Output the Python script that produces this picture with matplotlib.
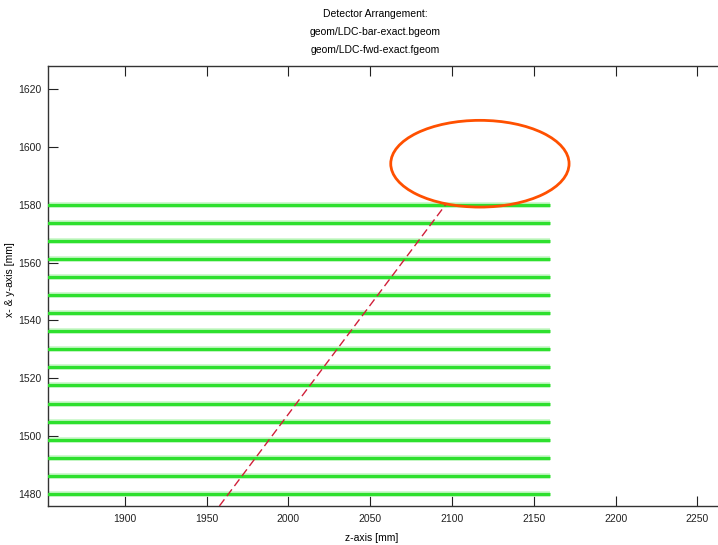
import matplotlib
matplotlib.use("Agg")
import matplotlib.pyplot as plt
from matplotlib.patches import Ellipse
import numpy as np

# Data
layer_r = [1480 + 6.25 * k for k in range(17)]   # barrel layer radii [mm]
layer_z = [1700, 2160]                            # layer z-extent [mm]
track_z = [0, 2096]
track_r = [0, 1580]
ellipse_center = (2117, 1594.2)
ellipse_size = (109, 30)
xticks = [1900, 1950, 2000, 2050, 2100, 2150, 2200, 2250]
yticks = [1480, 1500, 1520, 1540, 1560, 1580, 1600, 1620]
title_lines = ["Detector Arrangement:", "geom/LDC-bar-exact.bgeom", "geom/LDC-fwd-exact.fgeom"]

plt.rcParams['font.family'] = ['Liberation Sans', 'DejaVu Sans']

fig = plt.figure(figsize=(7.18, 5.45), dpi=100)
W, H = 718, 545
x0, x1 = 1853, 2300
px_per_mm = 81.8 / 50
ax_w = (x1 - x0) * px_per_mm
ax = fig.add_axes([48 / W, (H - 506) / H, ax_w / W, (506 - 66) / H])
ax.set_xlim(x0, x1)
ax.set_ylim(1475.8, 1628)

for r in layer_r:
    ax.plot(layer_z, [r, r], color='#c4f7c4', lw=4.0, solid_capstyle='butt', zorder=2)
    ax.plot(layer_z, [r, r], color='#2ee02e', lw=2.3, solid_capstyle='butt', zorder=3)

ax.plot(track_z, track_r, color='#d0203a', lw=1.0, ls=(0, (6, 3)), zorder=4)

ell = Ellipse(ellipse_center, ellipse_size[0], ellipse_size[1], fill=False,
              edgecolor='#ff5000', lw=2.0, zorder=5)
ax.add_patch(ell)

ax.set_xticks(xticks)
ax.set_yticks(yticks)
ax.tick_params(axis='both', direction='in', length=7, width=0.8, labelsize=7.5,
               colors='#222222')
ax.tick_params(axis='x', top=True, pad=6)
ax.tick_params(axis='y', right=True, pad=5)
for s in ax.spines.values():
    s.set_linewidth(1.0)
    s.set_color('#333333')

fig.text(375 / W, 1 - 14 / H, title_lines[0], ha='center', va='center', fontsize=7.5)
fig.text(375 / W, 1 - 32 / H, title_lines[1], ha='center', va='center', fontsize=7.5)
fig.text(375 / W, 1 - 50 / H, title_lines[2], ha='center', va='center', fontsize=7.5)
fig.text(372 / W, 1 - 538 / H, "z-axis [mm]", ha='center', va='center', fontsize=7.5)
fig.text(10 / W, 1 - 280 / H, "x- & y-axis [mm]", ha='center', va='center', fontsize=7.5,
         rotation=90)

fig.savefig("out.png", dpi=100)
